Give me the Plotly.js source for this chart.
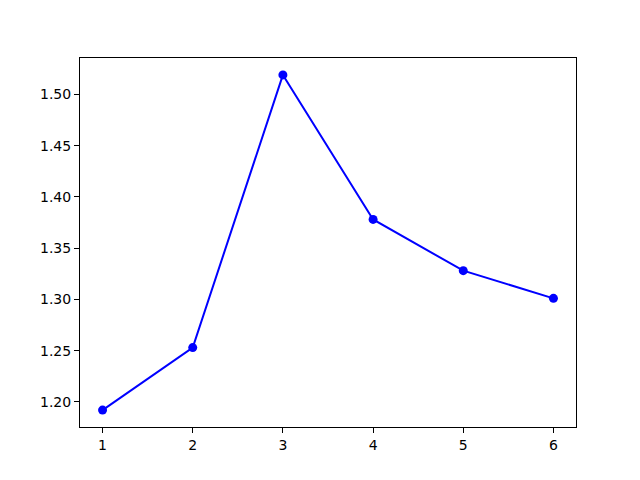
<!DOCTYPE html>
<html>
<head>
<meta charset="utf-8">
<script src="https://cdn.plot.ly/plotly-3.0.1.min.js"></script>
<style>
  html, body { margin: 0; padding: 0; background: #fff; }
  #chart { width: 640px; height: 480px; }
</style>
</head>
<body>
<div id="chart"></div>
<script>
// values
const xValues = [1, 2, 3, 4, 5, 6];
const yValues = [1.192, 1.253, 1.519, 1.378, 1.328, 1.301];

const axisStyle = {
  showgrid: false,
  zeroline: false,
  showline: true,
  linecolor: "#000",
  linewidth: 1,
  mirror: true,
  ticks: "outside",
  ticklen: 5,
  tickwidth: 1,
  tickcolor: "#000",
  tickfont: { family: "DejaVu Sans", size: 14, color: "#000" },
};

Plotly.newPlot("chart", [{
  type: "scatter",
  mode: "lines+markers",
  x: xValues,
  y: yValues,
  line: { color: "#0000ff", width: 2 },
  marker: { color: "#0000ff", size: 9 },
}], {
  width: 640,
  height: 480,
  margin: { l: 80, r: 64, t: 58, b: 53 },
  paper_bgcolor: "#fff",
  plot_bgcolor: "#fff",
  showlegend: false,
  xaxis: { ...axisStyle, range: [0.75, 6.25], dtick: 1, tick0: 1 },
  yaxis: { ...axisStyle, range: [1.1755, 1.5355], dtick: 0.05, tick0: 1.2, tickformat: ".2f" },
}, { staticPlot: true });
</script>
</body>
</html>
